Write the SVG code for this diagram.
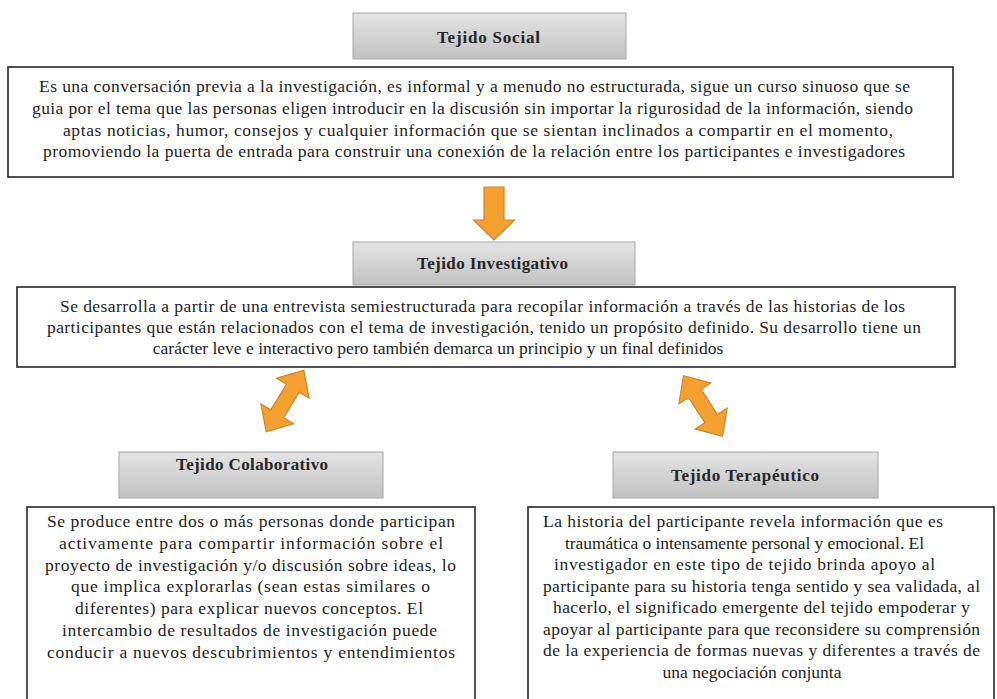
<svg xmlns="http://www.w3.org/2000/svg" width="997" height="699" viewBox="0 0 997 699">
<style>
.title{fill:url(#tg);stroke:#a6a6a6;stroke-width:1}
.tt{font-family:"Liberation Serif","Times New Roman",serif;font-weight:bold;font-size:17px;fill:#262626}
.box{fill:#fff;stroke:#262626;stroke-width:1.6}
.bt{font-family:"Liberation Serif","Times New Roman",serif;font-size:17.5px;fill:#1e1e1e}
.c{text-anchor:middle}
.arr{fill:#f5a132;stroke:#cf8526;stroke-width:1.2;stroke-linejoin:miter}
</style>
<defs>
<linearGradient id="tg" x1="0" y1="0" x2="0" y2="1">
<stop offset="0" stop-color="#e4e4e4"/>
<stop offset="1" stop-color="#c2c2c2"/>
</linearGradient>
<path id="dbl" d="M-36,0 L-15,-19 L-15,-7.5 L15,-7.5 L15,-19 L36,0 L15,19 L15,7.5 L-15,7.5 L-15,19 Z"/>
</defs>
<rect width="997" height="699" fill="#fff"/>

<g id="connectors">
<path class="arr" d="M484,187 L504,187 L504,220 L514.5,220 L494,240 L473.5,220 L484,220 Z"/>
<use class="arr" href="#dbl" transform="translate(285,401) rotate(-58.5)"/>
<use class="arr" href="#dbl" transform="translate(703,406) rotate(57.2)"/>
</g>

<g id="tejido-social">
<rect class="title" x="353" y="13" width="273" height="46"/>
<text class="tt" x="437" y="43" textLength="103">Tejido Social</text>
</g>

<g id="desc-social">
<rect class="box" x="8" y="67" width="945" height="110"/>
<text class="bt" x="39" y="91.5" textLength="871">Es una conversación previa a la investigación, es informal y a menudo no estructurada, sigue un curso sinuoso que se</text>
<text class="bt" x="32" y="113.5" textLength="881">guia por el tema que las personas eligen introducir en la discusión sin importar la rigurosidad de la información, siendo</text>
<text class="bt" x="63" y="135.5" textLength="830">aptas noticias, humor, consejos y cualquier información que se sientan inclinados a compartir en el momento,</text>
<text class="bt" x="43" y="157" textLength="862">promoviendo la puerta de entrada para construir una conexión de la relación entre los participantes e investigadores</text>
</g>

<g id="tejido-investigativo">
<rect class="title" x="353" y="242" width="282" height="43"/>
<text class="tt" x="417" y="269" textLength="151">Tejido Investigativo</text>
</g>

<g id="desc-investigativo">
<rect class="box" x="17" y="287" width="938" height="80"/>
<text class="bt" x="60" y="312" textLength="845">Se desarrolla a partir de una entrevista semiestructurada para recopilar información a través de las historias de los</text>
<text class="bt" x="47" y="333" textLength="874">participantes que están relacionados con el tema de investigación, tenido un propósito definido. Su desarrollo tiene un</text>
<text class="bt c" x="438" y="354">carácter leve e interactivo pero también demarca un principio y un final definidos</text>
</g>

<g id="tejido-colaborativo">
<rect class="title" x="119" y="452" width="264" height="46"/>
<text class="tt" x="176" y="470" textLength="152">Tejido Colaborativo</text>
</g>

<g id="desc-colaborativo">
<rect class="box" x="27" y="507" width="448" height="200"/>
<text class="bt" x="47" y="527" textLength="408">Se produce entre dos o más personas donde participan</text>
<text class="bt" x="59" y="549" textLength="384">activamente para compartir información sobre el</text>
<text class="bt" x="45" y="570.5" textLength="411">proyecto de investigación y/o discusión sobre ideas, lo</text>
<text class="bt" x="71" y="592" textLength="359">que implica explorarlas (sean estas similares o</text>
<text class="bt" x="75" y="614" textLength="348">diferentes) para explicar nuevos conceptos. El</text>
<text class="bt" x="62" y="636" textLength="375">intercambio de resultados de investigación puede</text>
<text class="bt" x="47" y="657.5" textLength="408">conducir a nuevos descubrimientos y entendimientos</text>
</g>

<g id="tejido-terapeutico">
<rect class="title" x="613" y="452" width="265" height="46"/>
<text class="tt" x="671" y="481" textLength="148">Tejido Terapéutico</text>
</g>

<g id="desc-terapeutico">
<rect class="box" x="528" y="507" width="466" height="200"/>
<text class="bt" x="543" y="527" textLength="400">La historia del participante revela información que es</text>
<text class="bt" x="565" y="548.5" textLength="359">traumática o intensamente personal y emocional. El</text>
<text class="bt" x="554" y="570" textLength="381">investigador en este tipo de tejido brinda apoyo al</text>
<text class="bt" x="543" y="591.5" textLength="437">participante para su historia tenga sentido y sea validada, al</text>
<text class="bt" x="553" y="613" textLength="417">hacerlo, el significado emergente del tejido empoderar y</text>
<text class="bt" x="543" y="634.5" textLength="437">apoyar al participante para que reconsidere su comprensión</text>
<text class="bt" x="543" y="656" textLength="437">de la experiencia de formas nuevas y diferentes a través de</text>
<text class="bt c" x="752" y="677.5">una negociación conjunta</text>
</g>
</svg>
